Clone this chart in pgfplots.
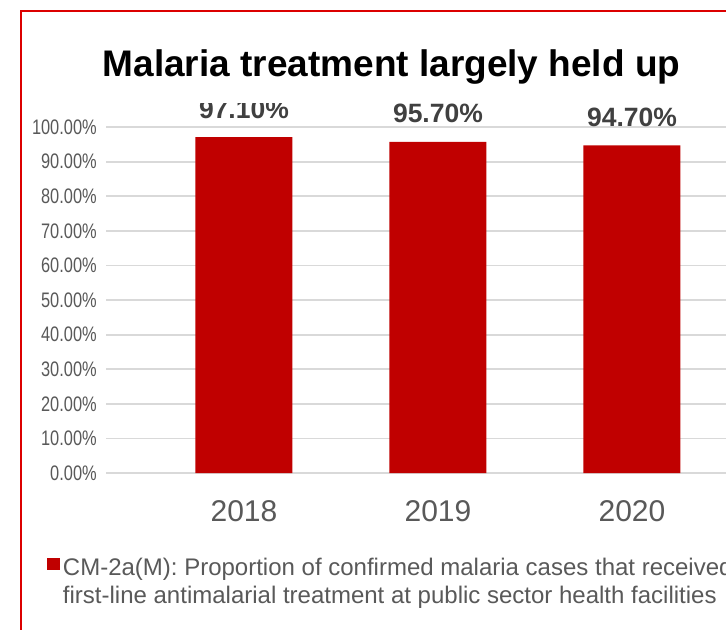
\documentclass[border=0pt]{standalone}
\usepackage{pgfplots}
\pgfplotsset{compat=1.18}
\usepackage{fontspec}
\setmainfont{Liberation Sans}
\definecolor{barred}{HTML}{C00000}
\definecolor{lbl}{HTML}{404040}
\definecolor{tk}{HTML}{595959}
\definecolor{gridc}{HTML}{D9D9D9}
\definecolor{framec}{HTML}{DC0000}
\begin{document}
\begin{tikzpicture}
\useasboundingbox (0,0) rectangle (363pt,-314.5pt);
\clip (0,0) rectangle (363pt,-314.5pt);
\fill[white] (0,0) rectangle (363pt,-314.5pt);
\begin{axis}[
  at={(53pt,-236.5pt)}, anchor=south west,
  scale only axis, width=321pt, height=173pt,
  xmin=-0.711, xmax=2.598, ymin=0, ymax=100,
  ybar, bar width=48.5pt,
  axis line style={draw=none}, tick style={draw=none},
  xtick={0,1,2}, xticklabels={2018,2019,2020},
  ytick={0,10,20,30,40,50,60,70,80,90,100},
  yticklabels={0.00\%,10.00\%,20.00\%,30.00\%,40.00\%,50.00\%,60.00\%,70.00\%,80.00\%,90.00\%,100.00\%},
  ymajorgrids, major grid style={draw=gridc, line width=0.9pt},
  xticklabel style={font=\fontsize{15}{18}\selectfont, text=tk, anchor=base, inner sep=0pt, yshift=-19.85pt},
  yticklabel style={font=\fontsize{10.5}{12}\selectfont, text=tk, anchor=east, inner sep=0pt, xshift=-4.5pt, xscale=0.78},
  /pgf/number format/assume math mode=true,
  nodes near coords={\pgfmathprintnumber[fixed,fixed zerofill,precision=2]{\pgfplotspointmeta}\%},
  nodes near coords style={font=\bfseries\fontsize{13.25}{15}\selectfont, text=lbl, anchor=base, inner sep=0pt, yshift=9.5pt},
  legend style={draw=none, fill=none, inner sep=0pt, outer sep=0pt, row sep=0pt, column sep=1.5pt,
    nodes={inner sep=0pt}, at={(axis description cs:-0.0919,-0.2382)}, anchor=north west,
    font=\fontsize{12}{14}\selectfont, text=tk},
  legend cell align=left,
  legend image code/.code={\fill[barred] (0pt,-1.5pt) rectangle (6.5pt,4.5pt);},
]
\addplot[fill=barred, draw=none] coordinates {(0,97.1) (1,95.7) (2,94.7)};
\addlegendentry{\begin{tabular}[t]{@{}l@{}}CM-2a(M): Proportion of confirmed malaria cases that received\\first-line antimalarial treatment at public sector health facilities\end{tabular}}
\end{axis}
\draw[framec, line width=1pt] (10.5pt,-320pt) -- (10.5pt,-5.5pt) -- (370pt,-5.5pt);
\node[fill=white, inner sep=0pt, text depth=13.5pt, anchor=base, font=\bfseries\fontsize{18.5}{21}\selectfont] at (195.75pt,-38pt) {Malaria treatment largely held up};
\end{tikzpicture}
\end{document}
